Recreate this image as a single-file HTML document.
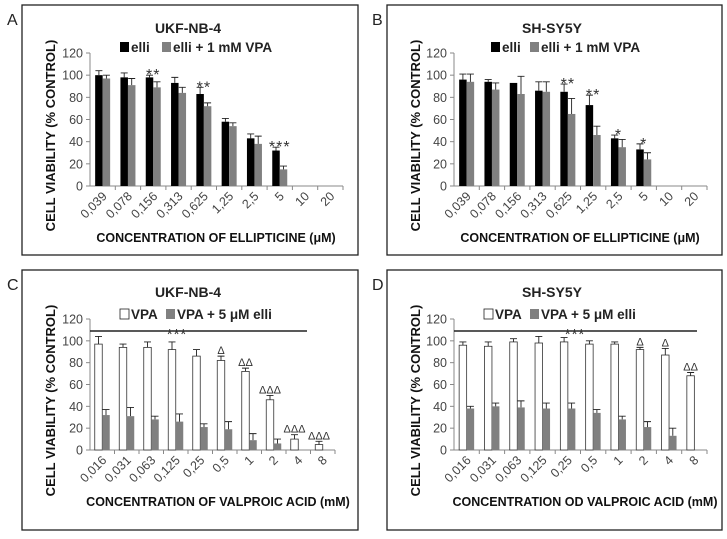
<!DOCTYPE html>
<html><head><meta charset="utf-8"><style>
body{margin:0;background:#fff;font-family:"Liberation Sans",sans-serif}
svg text{font-family:"Liberation Sans",sans-serif}
</style></head><body>
<svg id="fig" width="727" height="534" viewBox="0 0 727 534" xmlns="http://www.w3.org/2000/svg"></svg>
<script>
const catsElli=["0,039","0,078","0,156","0,313","0,625","1,25","2,5","5","10","20"];
const catsVpa=["0,016","0,031","0,063","0,125","0,25","0,5","1","2","4","8"];
const yTicks=[0,20,40,60,80,100,120];
const aS1=[100,98,98,93,83,58,43,32,0,0];
const aE1=[4,4,2,5,6,3,4,3,0,0];
const aS2=[97,91,89,84,72,54,38,15,0,0];
const aE2=[3,6,5,5,3,3,7,3,0,0];
const aMarks=["","","**","","**","","","***","",""];
const bS1=[96,94,93,86,85,73,43,33,0,0];
const bE1=[5,2,0,8,7,9,3,5,0,0];
const bS2=[94,87,83,85,65,46,35,24,0,0];
const bE2=[7,6,16,9,14,8,7,6,0,0];
const bMarks=["","","","","**","**","*","*","",""];
const cS1=[97,94,94,92,86,82,72,46,10,5];
const cE1=[7,3,5,7,6,4,3,4,4,3];
const cS2=[32,31,28,26,21,19,9,6,0,0];
const cE2=[5,8,3,7,3,7,6,4,0,0];
const cMarks=["","","","","","Δ","ΔΔ","ΔΔΔ","ΔΔΔ","ΔΔΔ"];
const dS1=[96,95,99,98,99,97,97,92,87,68];
const dE1=[3,4,3,6,4,3,2,2,6,3];
const dS2=[38,40,39,38,38,34,28,21,13,0];
const dE2=[2,3,6,5,5,3,3,5,7,0];
const dMarks=["","","","","","","","Δ","Δ","ΔΔ"];

const NS="http://www.w3.org/2000/svg";
const svg=document.getElementById('fig');
function mk(tag,attrs,parent,txt){const e=document.createElementNS(NS,tag);for(const k in attrs)e.setAttribute(k,attrs[k]);if(txt!==undefined)e.textContent=txt;(parent||svg).appendChild(e);return e;}

function panel(o){
  const g=mk('g',{});
  
  
  const fr=mk('rect',{x:o.bx,y:o.by,width:o.bw,height:o.bh,fill:'none',stroke:'#222','stroke-width':1.3},g);
  
  
  const L=mk('text',{x:o.bx-15,y:o.by+20,'font-size':16,fill:'#222'},g,o.letter);
  
  
  const t=mk('text',{x:o.tx,y:o.ty,'font-size':14,'font-weight':'bold','text-anchor':'middle',fill:'#222'},g,o.title);
  
  
  const lg=mk('g',{},g);
  
  
  const l1=mk('rect',{x:o.lx,y:o.ly-10,width:9,height:10,fill:o.c1,stroke:o.c1=='#fff'?'#222':'none','stroke-width':0.8},lg);
  
  
  const lt1=mk('text',{x:o.lx+11,y:o.ly,'font-size':13.5,'font-weight':'bold',fill:'#222'},lg,o.n1);
  
  
  const l2=mk('rect',{x:o.lx2,y:o.ly-10,width:9,height:10,fill:'#808080'},lg);
  
  
  const lt2=mk('text',{x:o.lx2+11,y:o.ly,'font-size':13.5,'font-weight':'bold',fill:'#222'},lg,o.n2);
  
  
  const y=v=>o.y0-(v/120)*(o.y0-o.y120);
  const cw=(o.x1-o.x0)/o.cats.length;
  const xc=i=>o.x0+cw*(i+0.5);
  const bw=7.5;
  const ya=mk('line',{x1:o.x0,y1:o.y120,x2:o.x0,y2:o.y0,stroke:'#888','stroke-width':1},g);
  
  
  const xa=mk('line',{x1:o.x0,y1:o.y0,x2:o.x1,y2:o.y0,stroke:'#888','stroke-width':1},g);
  
  
  yTicks.forEach(v=>{
    const tk=mk('line',{x1:o.x0-4,y1:y(v),x2:o.x0,y2:y(v),stroke:'#888'},g);
    
    
    const tl=mk('text',{x:o.x0-7,y:y(v)+4.5,'font-size':12.5,'text-anchor':'end',fill:'#444'},g,String(v));
    
    
  });
  o.cats.forEach((c,i)=>{
    const tk=mk('line',{x1:o.x0+cw*(i+1),y1:o.y0,x2:o.x0+cw*(i+1),y2:o.y0+4,stroke:'#888'},g);
    
    
    const tx=xc(i)+5,ty=o.y0+11;
    const tl=mk('text',{x:tx,y:ty,'font-size':12.5,'text-anchor':'end',fill:'#444',transform:`rotate(-45 ${tx} ${ty})`},g,c);
    
    
  });
  function bars(vals,errs,off,fill,name){
    vals.forEach((v,i)=>{
      if(v<=0)return;
      const bx=xc(i)+off;
      const r=mk('rect',{x:bx,y:y(v),width:bw,height:o.y0-y(v),fill:fill,stroke:fill=='#fff'?'#333':'none','stroke-width':0.8},g);
      
      
      const e=errs[i];
      if(e>0){
        const cx=bx+bw/2;
        const eb=mk('path',{d:`M${cx},${y(v)} V${y(v+e)} M${cx-3.5},${y(v+e)} H${cx+3.5}`,stroke:'#222','stroke-width':0.9,fill:'none'},g);
        
        
      }
    });
  }
  bars(o.s1,o.e1,-bw,o.c1,'series-1');
  bars(o.s2,o.e2,0,'#808080','series-2');
  o.marks.forEach((m,i)=>{
    if(!m)return;
    const tp=Math.max(o.s1[i]+o.e1[i],o.s2[i]+o.e2[i]);
    const isStar=m[0]=='*';
    const mx=isStar?xc(i):xc(i)-bw/2;
    const mt=mk('text',{x:mx,y:y(tp)-(isStar?-5:2),'font-size':isStar?16:11,'text-anchor':'middle',fill:'#333','letter-spacing':isStar?'1':'0'},g,m);
    
    
  });
  if(o.lineEnd){
    const sl=mk('line',{x1:o.x0,y1:y(109),x2:o.lineEnd,y2:y(109),stroke:'#222','stroke-width':1.5},g);
    
    
    const st=mk('text',{x:o.starX,y:y(109)+8,'font-size':15,'text-anchor':'middle',fill:'#333','letter-spacing':'1'},g,'***');
    
    
  }
  const yt=mk('text',{x:0,y:0,'font-size':13,'font-weight':'bold','text-anchor':'middle',fill:'#111',transform:`translate(${o.bx+33},${(o.y0+o.y120)/2+16}) rotate(-90)`},g,'CELL VIABILITY (% CONTROL)');
  
  
  const xt=mk('text',{x:o.xtx,y:o.xty,'font-size':12.5,'font-weight':'bold','text-anchor':'middle',fill:'#111'},g,o.xtitle);
  
  
}
const topCfg={by:5,bh:250,y0:186,y120:53,ty:33,ly:52,xty:242};
const botCfg={by:270,bh:260,y0:450,y120:319,ty:297,ly:319,xty:506};
panel(Object.assign({},topCfg,{letter:'A',bx:22,bw:336,x0:90,x1:343,tx:188,lx:120,lx2:162,title:'UKF-NB-4',c1:'#000',n1:'elli',n2:'elli + 1 mM VPA',cats:catsElli,s1:aS1,e1:aE1,s2:aS2,e2:aE2,marks:aMarks,xtitle:'CONCENTRATION OF ELLIPTICINE (μM)',xtx:216}));
panel(Object.assign({},topCfg,{letter:'B',bx:387,bw:335,x0:454,x1:707,tx:552,lx:491,lx2:530,title:'SH-SY5Y',c1:'#000',n1:'elli',n2:'elli + 1 mM VPA',cats:catsElli,s1:bS1,e1:bE1,s2:bS2,e2:bE2,marks:bMarks,xtitle:'CONCENTRATION OF ELLIPTICINE (μM)',xtx:580}));
panel(Object.assign({},botCfg,{letter:'C',bx:22,bw:336,x0:90,x1:335,tx:188,lx:120,lx2:166,title:'UKF-NB-4',c1:'#fff',n1:'VPA',n2:'VPA + 5 μM elli',cats:catsVpa,s1:cS1,e1:cE1,s2:cS2,e2:cE2,marks:cMarks,xtitle:'CONCENTRATION OF VALPROIC ACID (mM)',xtx:218,lineEnd:307,starX:177}));
panel(Object.assign({},botCfg,{letter:'D',bx:387,bw:335,x0:454,x1:707,tx:552,lx:484,lx2:530,title:'SH-SY5Y',c1:'#fff',n1:'VPA',n2:'VPA + 5 μM elli',cats:catsVpa,s1:dS1,e1:dE1,s2:dS2,e2:dE2,marks:dMarks,xtitle:'CONCENTRATION OD VALPROIC ACID (mM)',xtx:585,lineEnd:697,starX:575}));
</script>
</body></html>
